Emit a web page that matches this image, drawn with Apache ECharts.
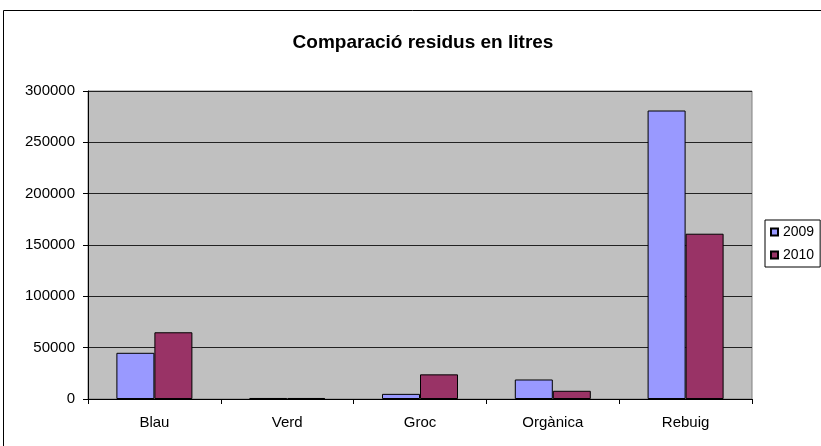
<!DOCTYPE html>
<html>
<head>
<meta charset="utf-8">
<script src="https://cdn.jsdelivr.net/npm/echarts@6/dist/echarts.min.js"></script>
<style>
  html, body { margin: 0; padding: 0; background: #fff; }
  #chart { width: 821px; height: 446px; }
</style>
</head>
<body>
<div id="chart"></div>
<script>
// data
var categories = ['Blau', 'Verd', 'Groc', 'Orgànica', 'Rebuig'];
var data2009 = [45000, 1000, 5000, 19000, 281000];
var data2010 = [65000, 1000, 24000, 8000, 161000];
var yTicks = { min: 0, max: 300000, interval: 50000 };

var myChart = echarts.init(document.getElementById('chart'));
var font = 'Arial, "Liberation Sans", sans-serif';

var option = {
    animation: false,
    backgroundColor: '#fff',
    graphic: [{
        type: 'rect',
        shape: { x: 3.5, y: 10.5, width: 900, height: 600 },
        style: { fill: 'none', stroke: '#000', lineWidth: 1 },
        z: -1
    }],
    title: {
        text: 'Comparació residus en litres',
        left: 418,
        textAlign: 'center',
        top: 28,
        textStyle: { fontFamily: font, fontSize: 19, fontWeight: 'bold', color: '#000' }
    },
    legend: {
        data: ['2009', '2010'],
        orient: 'vertical',
        left: 765,
        top: 220,
        padding: [5, 6, 5, 5],
        itemGap: 9,
        itemWidth: 7,
        itemHeight: 7,
        icon: 'rect',
        backgroundColor: '#fff',
        borderColor: '#000',
        borderWidth: 1,
        borderRadius: 0,
        textStyle: { fontFamily: font, fontSize: 14, color: '#000', padding: [0, 0, 0, 0] }
    },
    grid: {
        left: 88,
        right: 69,
        top: 91,
        bottom: 47,
        show: true,
        backgroundColor: '#C0C0C0',
        borderColor: '#808080',
        borderWidth: 1
    },
    xAxis: {
        type: 'category',
        data: categories,
        axisLine: { lineStyle: { color: '#000', width: 1 } },
        axisTick: { show: true, length: 5, lineStyle: { color: '#000' } },
        axisLabel: { fontFamily: font, fontSize: 15, color: '#000', margin: 16 }
    },
    yAxis: {
        type: 'value',
        min: yTicks.min,
        max: yTicks.max,
        interval: yTicks.interval,
        axisLine: { show: true, lineStyle: { color: '#000', width: 1 } },
        axisTick: { show: true, length: 5, lineStyle: { color: '#000' } },
        axisLabel: {
            fontFamily: font, fontSize: 15, color: '#000', margin: 13,
            formatter: function (v) { return String(v); }
        },
        splitLine: { show: true, lineStyle: { color: '#222', width: 1 } }
    },
    series: [
        {
            name: '2009',
            type: 'bar',
            data: data2009,
            barWidth: 38,
            barGap: '0%',
            itemStyle: { color: '#9999FF', borderColor: '#000', borderWidth: 1 }
        },
        {
            name: '2010',
            type: 'bar',
            data: data2010,
            barWidth: 38,
            barGap: '0%',
            itemStyle: { color: '#993366', borderColor: '#000', borderWidth: 1 }
        }
    ]
};

myChart.setOption(option);
</script>
</body>
</html>
